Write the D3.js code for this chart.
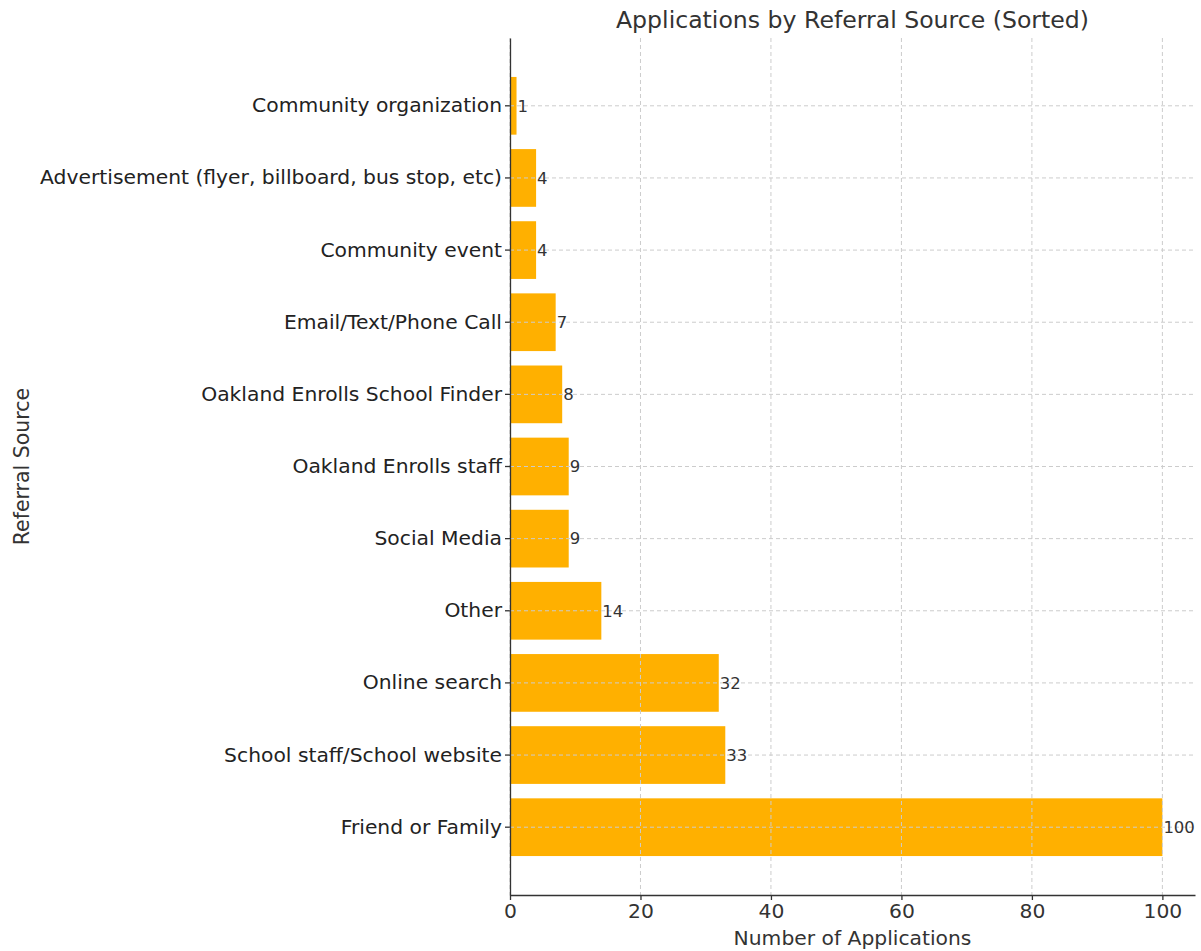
<!DOCTYPE html>
<meta charset="utf-8">
<body style="margin:0;background:#fff">
<style>
  text { font-family: "DejaVu Sans", sans-serif; fill: #333; }
  .grid line { stroke: #cccccc; stroke-width: 1px; stroke-dasharray: 4,3; }
  .axis path, .axis line { stroke: #333; stroke-width: 1.3px; }
</style>
<script src="https://d3js.org/d3.v7.min.js"></script>
<script>
  // top to bottom, as in the picture
  var sources = ["Community organization", "Advertisement (flyer, billboard, bus stop, etc)",
    "Community event", "Email/Text/Phone Call", "Oakland Enrolls School Finder",
    "Oakland Enrolls staff", "Social Media", "Other", "Online search",
    "School staff/School website", "Friend or Family"];
  var counts = [1, 4, 4, 7, 8, 9, 9, 14, 32, 33, 100];
  var xTicks = [0, 20, 40, 60, 80, 100];

  var width = 1201, height = 951,
      pLeft = 510, pRight = 1195, pTop = 38, pBottom = 895;

  var data = sources.map(function(s, i) { return {name: s, value: counts[i]}; });

  var svg = d3.select("body").append("svg")
    .attr("width", width)
    .attr("height", height);

  var x = d3.scaleLinear().domain([0, 105]).range([pLeft, pRight]);
  var y = d3.scaleBand().domain(sources).range([pTop, pBottom])
    .paddingInner(0.2).paddingOuter(0.54);

  // bars
  svg.append("g")
    .selectAll("rect")
    .data(data)
    .enter()
    .append("rect")
    .attr("x", x(0))
    .attr("y", function(d) { return y(d.name); })
    .attr("width", function(d) { return x(d.value) - x(0); })
    .attr("height", y.bandwidth())
    .attr("fill", "#ffb000");

  // grid drawn over the bars
  var grid = svg.append("g").attr("class", "grid");
  grid.selectAll(".gx").data(xTicks).enter().append("line")
    .attr("x1", function(d) { return x(d); }).attr("x2", function(d) { return x(d); })
    .attr("y1", pTop).attr("y2", pBottom);
  grid.selectAll(".gy").data(sources).enter().append("line")
    .attr("x1", pLeft).attr("x2", pRight)
    .attr("y1", function(d) { return y(d) + y.bandwidth() / 2; })
    .attr("y2", function(d) { return y(d) + y.bandwidth() / 2; });

  // value labels
  svg.append("g")
    .selectAll("text")
    .data(data)
    .enter()
    .append("text")
    .attr("x", function(d) { return x(d.value) + 1; })
    .attr("y", function(d) { return y(d.name) + y.bandwidth() / 2; })
    .attr("dy", "0.35em")
    .style("font-size", "16.5px")
    .text(function(d) { return d.value; });

  // axes
  var xAxis = svg.append("g").attr("class", "axis")
    .attr("transform", "translate(0," + pBottom + ")")
    .call(d3.axisBottom(x).tickValues(xTicks).tickSize(5).tickPadding(4).tickSizeOuter(0));
  xAxis.selectAll("text").style("font-size", "20.3px").style("fill", "#333");

  var yAxis = svg.append("g").attr("class", "axis")
    .attr("transform", "translate(" + pLeft + ",0)")
    .call(d3.axisLeft(y).tickSize(5).tickPadding(3).tickSizeOuter(0));
  yAxis.selectAll("text").style("font-size", "20.3px").style("fill", "#222");

  // titles
  svg.append("text")
    .attr("x", (pLeft + pRight) / 2).attr("y", 28)
    .attr("text-anchor", "middle")
    .style("font-size", "23.6px")
    .text("Applications by Referral Source (Sorted)");

  svg.append("text")
    .attr("x", (pLeft + pRight) / 2).attr("y", 945)
    .attr("text-anchor", "middle")
    .style("font-size", "20.3px")
    .text("Number of Applications");

  svg.append("text")
    .attr("transform", "translate(29," + (pTop + pBottom) / 2 + ") rotate(-90)")
    .attr("text-anchor", "middle")
    .style("font-size", "20.5px")
    .text("Referral Source");
</script>
</body>
